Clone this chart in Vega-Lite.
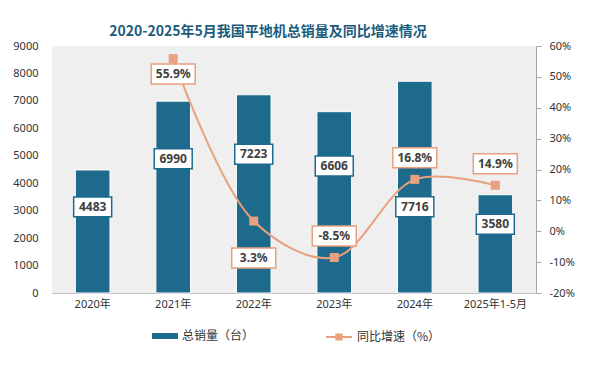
{
  "$schema": "https://vega.github.io/schema/vega-lite/v6.json",
  "width": 484,
  "height": 247,
  "autosize": {"type": "none"},
  "padding": {"left": 52, "top": 46, "right": 54, "bottom": 74},
  "background": "white",
  "title": {
    "text": "2020-2025年5月我国平地机总销量及同比增速情况",
    "fontSize": 14,
    "font": "Noto Sans CJK SC",
    "fontWeight": "bold",
    "color": "#1b5b7c",
    "anchor": "middle",
    "dx": -26,
    "offset": 1
  },
  "data": {
    "values": [
      {"year": "2020年", "sales": 4483, "growth": null},
      {"year": "2021年", "sales": 6990, "growth": 55.9},
      {"year": "2022年", "sales": 7223, "growth": 3.3},
      {"year": "2023年", "sales": 6606, "growth": -8.5},
      {"year": "2024年", "sales": 7716, "growth": 16.8},
      {"year": "2025年1-5月", "sales": 3580, "growth": 14.9}
    ]
  },
  "transform": [
    {"calculate": "isValid(datum.growth) ? (datum.growth + 20) / 80 * 9000 : null", "as": "lp"},
    {"calculate": "isValid(datum.growth) && abs(datum.sales * 0.7 - datum.lp) < 1300 ? datum.lp - 1000 : datum.sales * 0.7", "as": "barLabelY"},
    {"calculate": "datum.growth > 45 ? datum.growth - 5 : (datum.growth > 0 && datum.growth < 5 ? datum.growth - 12 : datum.growth + 7)", "as": "pctLabelY"},
    {"calculate": "isValid(datum.growth) ? datum.growth + '%' : ''", "as": "pctText"}
  ],
  "encoding": {
    "x": {
      "field": "year",
      "type": "nominal",
      "sort": null,
      "scale": {"paddingInner": 0.57, "paddingOuter": 0.29},
      "axis": {
        "title": null,
        "labelAngle": 0,
        "ticks": false,
        "domainColor": "#bfbfbf",
        "labelFontSize": 11,
        "labelColor": "#333333",
        "labelPadding": 5,
        "labelFont": "Noto Sans, Noto Sans CJK SC"
      }
    }
  },
  "layer": [
    {
      "layer": [
        {
          "mark": {"type": "bar", "stroke": "white", "strokeWidth": 1},
          "encoding": {
            "y": {
              "field": "sales",
              "type": "quantitative",
              "scale": {"domain": [0, 9000], "nice": false},
              "axis": {
                "orient": "left",
                "title": null,
                "values": [0, 1000, 2000, 3000, 4000, 5000, 6000, 7000, 8000, 9000],
                "format": "d",
                "labelOverlap": false,
                "grid": false,
                "domain": false,
                "ticks": false,
                "labelPadding": 14,
                "labelFontSize": 11,
                "labelColor": "#333333",
                "labelFont": "Noto Sans"
              }
            },
            "fill": {
              "datum": "总销量（台）",
              "type": "nominal",
              "scale": {"domain": ["总销量（台）"], "range": ["#1d6a8d"]},
              "legend": {
                "orient": "none",
                "legendX": 100,
                "legendY": 277,
                "title": null,
                "symbolType": "M-1,-0.23L1,-0.23L1,0.23L-1,0.23Z",
                "symbolSize": 676,
                "symbolStrokeWidth": 0,
                "labelOffset": 4,
                "labelFontSize": 12,
                "labelFont": "Noto Sans CJK SC",
                "labelColor": "#333333"
              }
            }
          }
        },
        {
          "mark": {
            "type": "point",
            "shape": "M-1,-0.526L1,-0.526L1,0.526L-1,0.526Z",
            "size": 1444,
            "filled": true,
            "fill": "white",
            "stroke": "#1d6a8d",
            "strokeWidth": 1.5,
            "opacity": 1
          },
          "encoding": {
            "y": {
              "field": "barLabelY",
              "type": "quantitative",
              "scale": {"domain": [0, 9000], "nice": false},
              "axis": {
                "orient": "left",
                "title": null,
                "values": [0, 1000, 2000, 3000, 4000, 5000, 6000, 7000, 8000, 9000],
                "format": "d",
                "labelOverlap": false,
                "grid": false,
                "domain": false,
                "ticks": false,
                "labelPadding": 14,
                "labelFontSize": 11,
                "labelColor": "#333333",
                "labelFont": "Noto Sans"
              }
            }
          }
        },
        {
          "mark": {
            "type": "text",
            "font": "Noto Sans",
            "fontWeight": "bold",
            "fontSize": 12,
            "color": "#404040"
          },
          "encoding": {
            "y": {
              "field": "barLabelY",
              "type": "quantitative",
              "scale": {"domain": [0, 9000], "nice": false},
              "axis": {
                "orient": "left",
                "title": null,
                "values": [0, 1000, 2000, 3000, 4000, 5000, 6000, 7000, 8000, 9000],
                "format": "d",
                "labelOverlap": false,
                "grid": false,
                "domain": false,
                "ticks": false,
                "labelPadding": 14,
                "labelFontSize": 11,
                "labelColor": "#333333",
                "labelFont": "Noto Sans"
              }
            },
            "text": {"field": "sales", "type": "quantitative", "format": "d"}
          }
        }
      ]
    },
    {
      "transform": [{"filter": "isValid(datum.growth)"}],
      "layer": [
        {
          "mark": {"type": "line", "interpolate": "catmull-rom", "strokeWidth": 2},
          "encoding": {
            "y": {
              "field": "growth",
              "type": "quantitative",
              "scale": {"domain": [-20, 60], "nice": false},
              "axis": {
                "orient": "right",
                "title": null,
                "values": [-20, -10, 0, 10, 20, 30, 40, 50, 60],
                "labelExpr": "datum.value + '%'",
                "labelOverlap": false,
                "grid": false,
                "domain": true,
                "domainColor": "#a6a6a6",
                "ticks": true,
                "tickColor": "#a6a6a6",
                "tickSize": 5,
                "labelPadding": 8,
                "labelFontSize": 11,
                "labelColor": "#333333",
                "labelFont": "Noto Sans"
              }
            },
            "stroke": {
              "datum": "同比增速（%）",
              "type": "nominal",
              "scale": {"domain": ["同比增速（%）"], "range": ["#e8a07e"]},
              "legend": {
                "orient": "none",
                "legendX": 273,
                "legendY": 277,
                "title": null,
                "symbolType": "M-1,0L1,0M-0.2,-0.2L0.2,-0.2L0.2,0.2L-0.2,0.2Z",
                "symbolSize": 676,
                "symbolStrokeWidth": 2,
                "symbolFillColor": "#e8a07e",
                "labelOffset": 4,
                "labelFontSize": 12,
                "labelFont": "Noto Sans CJK SC",
                "labelColor": "#333333"
              }
            }
          }
        },
        {
          "mark": {
            "type": "point",
            "shape": "square",
            "size": 81,
            "filled": true,
            "color": "#e8a07e",
            "opacity": 1
          },
          "encoding": {
            "y": {
              "field": "growth",
              "type": "quantitative",
              "scale": {"domain": [-20, 60], "nice": false},
              "axis": {
                "orient": "right",
                "title": null,
                "values": [-20, -10, 0, 10, 20, 30, 40, 50, 60],
                "labelExpr": "datum.value + '%'",
                "labelOverlap": false,
                "grid": false,
                "domain": true,
                "domainColor": "#a6a6a6",
                "ticks": true,
                "tickColor": "#a6a6a6",
                "tickSize": 5,
                "labelPadding": 8,
                "labelFontSize": 11,
                "labelColor": "#333333",
                "labelFont": "Noto Sans"
              }
            }
          }
        },
        {
          "mark": {
            "type": "point",
            "shape": "M-1,-0.4545L1,-0.4545L1,0.4545L-1,0.4545Z",
            "size": 1936,
            "filled": true,
            "fill": "white",
            "stroke": "#e8a07e",
            "strokeWidth": 1.5,
            "opacity": 1
          },
          "encoding": {
            "y": {
              "field": "pctLabelY",
              "type": "quantitative",
              "scale": {"domain": [-20, 60], "nice": false},
              "axis": {
                "orient": "right",
                "title": null,
                "values": [-20, -10, 0, 10, 20, 30, 40, 50, 60],
                "labelExpr": "datum.value + '%'",
                "labelOverlap": false,
                "grid": false,
                "domain": true,
                "domainColor": "#a6a6a6",
                "ticks": true,
                "tickColor": "#a6a6a6",
                "tickSize": 5,
                "labelPadding": 8,
                "labelFontSize": 11,
                "labelColor": "#333333",
                "labelFont": "Noto Sans"
              }
            }
          }
        },
        {
          "mark": {
            "type": "text",
            "font": "Noto Sans",
            "fontWeight": "bold",
            "fontSize": 12,
            "color": "#404040"
          },
          "encoding": {
            "y": {
              "field": "pctLabelY",
              "type": "quantitative",
              "scale": {"domain": [-20, 60], "nice": false},
              "axis": {
                "orient": "right",
                "title": null,
                "values": [-20, -10, 0, 10, 20, 30, 40, 50, 60],
                "labelExpr": "datum.value + '%'",
                "labelOverlap": false,
                "grid": false,
                "domain": true,
                "domainColor": "#a6a6a6",
                "ticks": true,
                "tickColor": "#a6a6a6",
                "tickSize": 5,
                "labelPadding": 8,
                "labelFontSize": 11,
                "labelColor": "#333333",
                "labelFont": "Noto Sans"
              }
            },
            "text": {"field": "pctText", "type": "nominal"}
          }
        }
      ]
    }
  ],
  "resolve": {"scale": {"y": "independent"}},
  "config": {
    "view": {"stroke": null, "fill": "#efefef"},
    "font": "Noto Sans, Noto Sans CJK SC"
  }
}
